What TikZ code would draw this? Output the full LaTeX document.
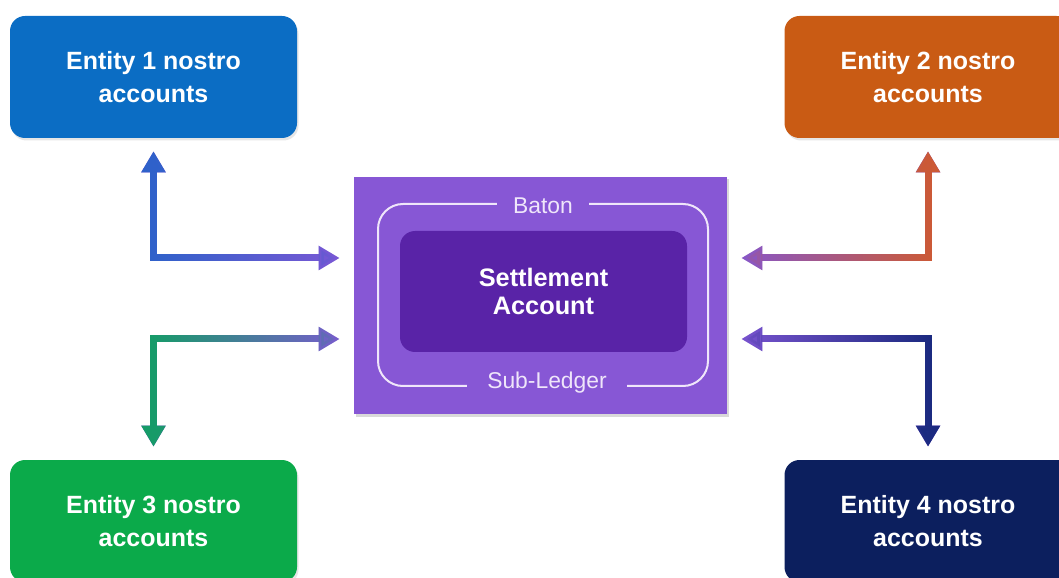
\documentclass[tikz,border=0pt]{standalone}
\usepackage{fontspec}
\setmainfont{Liberation Sans}
\usetikzlibrary{arrows.meta,shadows,fadings}
\definecolor{entblue}{HTML}{0B6DC4}
\definecolor{entorange}{HTML}{C95B14}
\definecolor{entgreen}{HTML}{0BAA4A}
\definecolor{entnavy}{HTML}{0C1F5E}
\definecolor{acctpurple}{HTML}{8757D5}
\definecolor{settlepurple}{HTML}{5923A7}
\definecolor{lavender}{HTML}{EFE6FA}
\definecolor{arrpurple}{HTML}{8157D6}
\definecolor{arrblue}{HTML}{2F62CA}
\definecolor{arrorange}{HTML}{CC5A36}
\definecolor{arrgreen}{HTML}{169C68}
\definecolor{arrnavy}{HTML}{1B2A80}
\tikzfading[name=fade to right,left color=transparent!0,right color=transparent!100]
\tikzfading[name=fade to left,left color=transparent!100,right color=transparent!0]
\tikzset{entity/.style={rounded corners=0.3cm,minimum width=5.74cm,minimum height=2.44cm,text=white,align=center,font=\fontsize{14.2}{18.7}\selectfont\bfseries,drop shadow={opacity=0.2,shadow xshift=0.03cm,shadow yshift=-0.05cm}}}
\tikzset{flow/.style={line width=0.14cm,{Triangle[width=0.46cm,length=0.42cm]}-{Triangle[width=0.46cm,length=0.42cm]},shorten <=0.26cm,shorten >=0.28cm}}
\tikzset{ledgerlabel/.style={fill=acctpurple,text=lavender,font=\fontsize{13}{15}\selectfont,inner xsep=0.32cm,inner ysep=0.05cm}}

\begin{document}
\begin{tikzpicture}
	\useasboundingbox (0,0) rectangle (21.18,11.54);
	\clip (0,0) rectangle (21.18,11.54);
	\node[entity,fill=entblue] (e1) at (3.07,10.0) {Entity 1 nostro\\accounts};
	\node[entity,fill=entorange] (e2) at (18.56,10.0) {Entity 2 nostro\\accounts};
	\node[entity,fill=entgreen] (e3) at (3.07,1.12) {Entity 3 nostro\\accounts};
	\node[entity,fill=entnavy] (e4) at (18.56,1.12) {Entity 4 nostro\\accounts};
	\node[fill=acctpurple,minimum width=7.46cm,minimum height=4.74cm,drop shadow={opacity=0.3,shadow xshift=0.04cm,shadow yshift=-0.05cm}] (acct) at (10.81,5.63) {};
	\node[draw=lavender,line width=0.04cm,rounded corners=0.5cm,minimum width=6.6cm,minimum height=3.64cm] (ledger) at (10.86,5.64) {};
	\node[fill=settlepurple,rounded corners=0.3cm,minimum width=5.74cm,minimum height=2.42cm,text=white,align=center,font=\fontsize{14.4}{15.9}\selectfont\bfseries] (settle) at (10.87,5.71) {Settlement\\Account};
	\node[ledgerlabel] (baton) at ([yshift=-0.05cm]ledger.north) {Baton};
	\node[ledgerlabel,inner xsep=0.4cm] (sub) at ([xshift=0.08cm,yshift=0.08cm]ledger.south) {Sub-Ledger};
	\coordinate (in1) at ([yshift=0.75cm]acct.west);
	\coordinate (in3) at ([yshift=-0.87cm]acct.west);
	\coordinate (in2) at ([yshift=0.75cm]acct.east);
	\coordinate (in4) at ([yshift=-0.87cm]acct.east);
	\foreach \e/\p/\c/\f in {e1/in1/arrblue/fade to right,e2/in2/arrorange/fade to left,e3/in3/arrgreen/fade to right,e4/in4/arrnavy/fade to left}{
		\draw[flow,arrpurple] (\e) |- (\p);
		\draw[flow,\c,path fading=\f] (\e) |- (\p);
	}
\end{tikzpicture}
\end{document}
